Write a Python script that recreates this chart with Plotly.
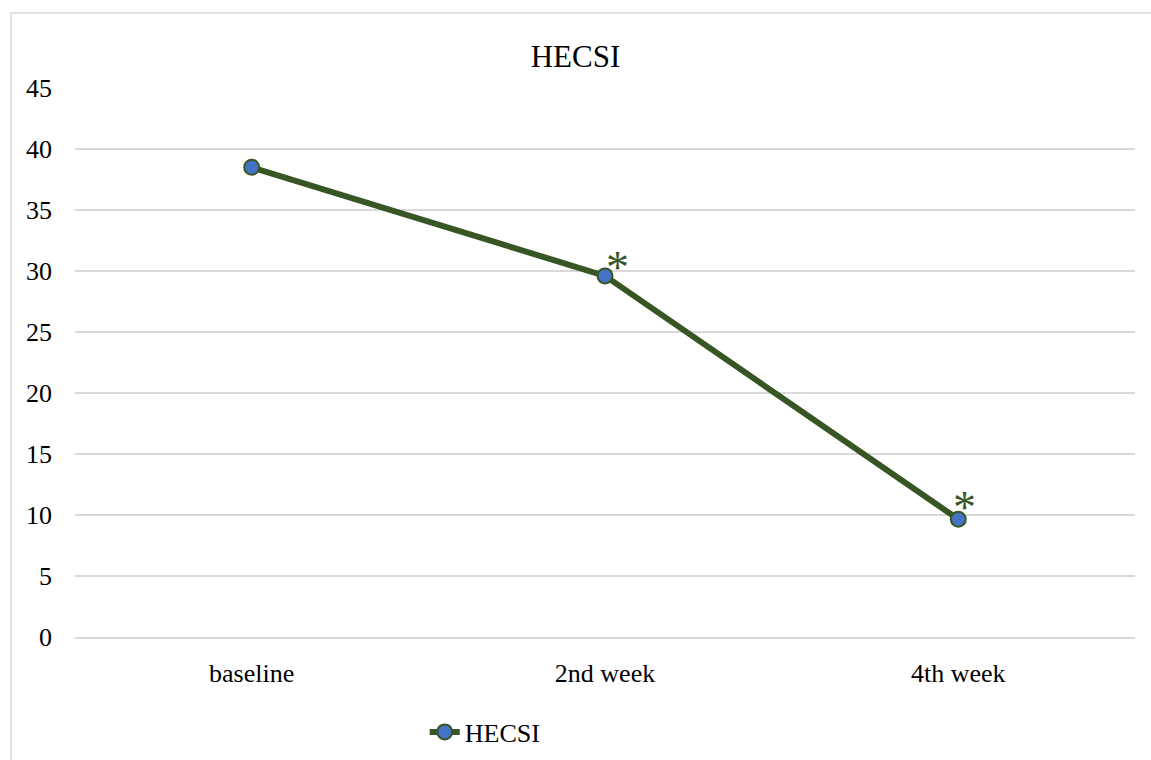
import plotly.graph_objects as go

categories = ["baseline", "2nd week", "4th week"]
values = [38.5, 29.6, 9.65]
sig_marks = ["", "*", "*"]
y_ticks = [0, 5, 10, 15, 20, 25, 30, 35, 40, 45]

GREEN = "#375623"
BLUE = "#4472C4"
GRID = "#d9d9d9"
FONT = "Liberation Serif, Times New Roman, serif"

fig = go.Figure()
fig.add_trace(go.Scatter(
    x=categories, y=values, mode="lines+markers", name="HECSI",
    line=dict(color=GREEN, width=6),
    marker=dict(color=BLUE, size=15, line=dict(color=GREEN, width=2)),
))

offsets = [(0, 0), (12, 8), (6, 12)]
for c, v, s, (dx, dy) in zip(categories, values, sig_marks, offsets):
    if s:
        fig.add_annotation(x=c, y=v, text=s, showarrow=False, xshift=dx, yshift=dy,
                           font=dict(family=FONT, size=46, color=GREEN))

fig.add_shape(type="rect", xref="paper", yref="paper",
              x0=-0.0604, y0=-0.4, x1=1.1, y1=1.1366,
              line=dict(color=GRID, width=1.5), fillcolor="rgba(0,0,0,0)", layer="below")

fig.update_layout(
    width=1151, height=760,
    margin=dict(l=75, r=16, t=88, b=123, autoexpand=False),
    paper_bgcolor="white", plot_bgcolor="white",
    font=dict(family=FONT, size=26, color="black"),
    title=dict(text="HECSI", x=0.5, xanchor="center", y=1 - 56 / 760, yanchor="middle",
               font=dict(family=FONT, size=31, color="black")),
    showlegend=True,
    legend=dict(orientation="h", x=0.387, xanchor="center", y=-0.173, yanchor="middle",
                font=dict(family=FONT, size=26, color="black"), bgcolor="rgba(0,0,0,0)"),
    xaxis=dict(range=[-0.5, 2.5], showgrid=False, showline=True, linecolor=GRID, linewidth=1.5,
               ticks="", tickfont=dict(family=FONT, size=26), ticklabelstandoff=12,
               automargin=False),
    yaxis=dict(range=[0, 45], tickvals=y_ticks, showgrid=True, gridcolor=GRID, gridwidth=1.5,
               zeroline=False, showline=False, ticks="", automargin=False,
               tickfont=dict(family=FONT, size=26), ticklabelstandoff=22),
)

fig.write_html("out.html", config={"displayModeBar": False},
               post_script="document.body.style.margin='0';document.body.style.overflow='hidden';")
